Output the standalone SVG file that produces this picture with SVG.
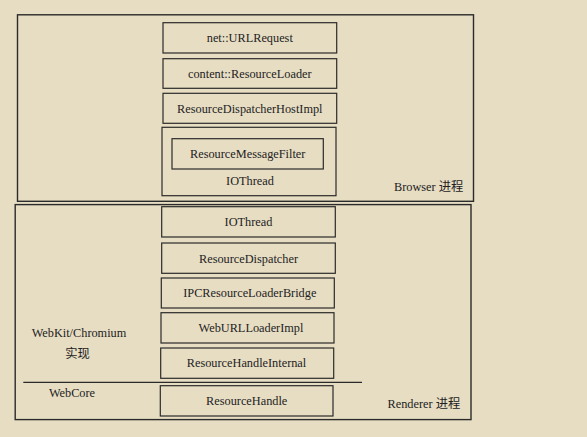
<svg xmlns="http://www.w3.org/2000/svg" width="587" height="437" viewBox="0 0 587 437">
<style>
.bg{fill:#e7ddc2}
.frame{fill:none;stroke:#2b2b2b;stroke-width:1.4}
.box{fill:none;stroke:#2b2b2b;stroke-width:1.2}
text{font-family:"Liberation Serif","Noto Sans CJK SC",serif;font-size:12.3px;fill:#222}
.c{text-anchor:middle}
</style>
<rect class="bg" x="0" y="0" width="587" height="437"/>
<g id="browser">
<rect class="frame" x="17.5" y="14.8" width="456" height="186.5"/>
<text x="394" y="190.5">Browser 进程</text>
</g>
<g id="renderer">
<rect class="frame" x="15.2" y="204.6" width="455.8" height="215"/>
<text x="387.5" y="407.5">Renderer 进程</text>
<text class="c" x="79" y="336.5">WebKit/Chromium</text>
<text class="c" x="77.5" y="357.5">实现</text>
<text class="c" x="72" y="396.5">WebCore</text>
</g>
<g id="n-urlrequest"><rect class="box" x="163" y="22.7" width="173.7" height="30.3"/><text class="c" x="249.8" y="42.2">net::URLRequest</text></g>
<g id="n-resourceloader"><rect class="box" x="163" y="58.7" width="173.7" height="29.6"/><text class="c" x="249.8" y="77.8">content::ResourceLoader</text></g>
<g id="n-rdhi"><rect class="box" x="163" y="93.3" width="173.7" height="30"/><text class="c" x="249.8" y="112.6">ResourceDispatcherHostImpl</text></g>
<g id="n-iothread-b"><rect class="box" x="162" y="127.3" width="174" height="68.4"/><text class="c" x="250" y="185">IOThread</text></g>
<g id="n-rmf"><rect class="box" x="172" y="138.7" width="151.3" height="30.3"/><text class="c" x="247.7" y="158.2">ResourceMessageFilter</text></g>
<g id="n-iothread-r"><rect class="box" x="161.7" y="206.7" width="173.6" height="30.3"/><text class="c" x="248.5" y="226">IOThread</text></g>
<g id="n-rd"><rect class="box" x="161.7" y="243" width="173.6" height="30.3"/><text class="c" x="248.5" y="262.5">ResourceDispatcher</text></g>
<g id="n-ipc"><rect class="box" x="161.3" y="278" width="173" height="30"/><text class="c" x="249.8" y="297.3">IPCResourceLoaderBridge</text></g>
<g id="n-wulli"><rect class="box" x="161" y="312.7" width="173" height="30.3"/><text class="c" x="251" y="332">WebURLLoaderImpl</text></g>
<g id="n-rhi"><rect class="box" x="160.7" y="348" width="173" height="30.3"/><text class="c" x="246.5" y="367.3">ResourceHandleInternal</text></g>
<g id="n-rh"><rect class="box" x="160.3" y="385.7" width="172.7" height="30.3"/><text class="c" x="246.7" y="405">ResourceHandle</text></g>
<g id="connectors">
<line x1="23.3" y1="382.3" x2="362" y2="382.3" stroke="#2b2b2b" stroke-width="1.3"/>
</g>
</svg>
